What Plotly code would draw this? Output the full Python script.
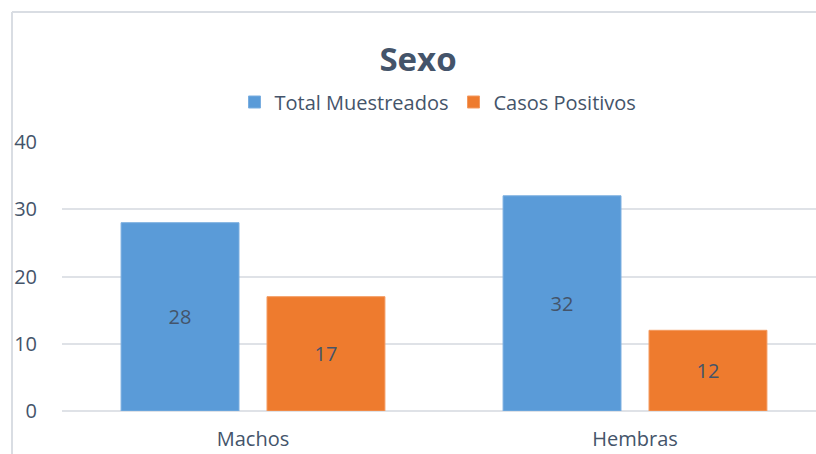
import plotly.graph_objects as go

categorias = ["Machos", "Hembras"]
total_muestreados = [28, 32]
casos_positivos = [17, 12]
tick_vals = [0, 10, 20, 30, 40]

W, H = 816, 454
L, R, T, B = 62, 0, 142, 43
pw, ph = W - L - R, H - T - B

def px_x(x):
    return (x - L) / pw

def px_y(y):
    return (H - B - y) / ph

txt = "#44546A"
font = "Open Sans"

fig = go.Figure()
fig.add_trace(go.Bar(
    x=categorias, y=total_muestreados, name="Total Muestreados",
    marker=dict(color="#5a9bd8", line=dict(color="#7aaee0", width=1)),
    text=total_muestreados, textposition="inside", insidetextanchor="middle",
    textfont=dict(color=txt, size=20, family=font),
))
fig.add_trace(go.Bar(
    x=categorias, y=casos_positivos, name="Casos Positivos",
    marker=dict(color="#ee7b2e", line=dict(color="#f39a60", width=1)),
    text=casos_positivos, textposition="inside", insidetextanchor="middle",
    textfont=dict(color=txt, size=20, family=font),
))

fig.update_layout(
    width=W, height=H,
    margin=dict(l=L, r=R, t=T, b=B),
    paper_bgcolor="white", plot_bgcolor="white",
    font=dict(family=font, color=txt, size=20),
    barmode="group", bargap=0.236, bargroupgap=0.192,
    title=dict(text="<b>Sexo</b>", x=px_x(418), xanchor="center", xref="paper",
               y=1 - 59 / H, yanchor="middle", font=dict(size=33, color=txt, family=font)),
    legend=dict(orientation="h", x=px_x(438), xanchor="center", y=px_y(102), yanchor="middle",
                yref="paper", font=dict(size=20, color=txt, family=font),
                itemwidth=30, traceorder="normal", bgcolor="rgba(0,0,0,0)"),
    showlegend=True,
    xaxis=dict(range=[-0.5, -0.5 + pw / 382], showgrid=False, zeroline=False,
               showline=False, ticks="", ticklabelstandoff=14,
               tickfont=dict(size=20, color=txt, family=font)),
    yaxis=dict(range=[0, 40], tickvals=tick_vals, showgrid=True, gridcolor="#dfe2e7",
               gridwidth=2, zeroline=True, zerolinecolor="#dfe2e7", zerolinewidth=2,
               showline=False, ticks="", ticklabelstandoff=24,
               tickfont=dict(size=20, color=txt, family=font)),
    shapes=[
        dict(type="line", xref="paper", yref="paper", x0=px_x(12), x1=1.0,
             y0=px_y(12), y1=px_y(12), line=dict(color="#d9dde3", width=2)),
        dict(type="line", xref="paper", yref="paper", x0=px_x(12), x1=px_x(12),
             y0=px_y(12), y1=-0.2, line=dict(color="#d9dde3", width=2)),
    ],
)

fig.write_html(
    "out.html",
    config={"displayModeBar": False},
    post_script=(
        "document.documentElement.style.overflow='hidden';"
        "document.body.style.margin='0';document.body.style.overflow='hidden';"
    ),
)
